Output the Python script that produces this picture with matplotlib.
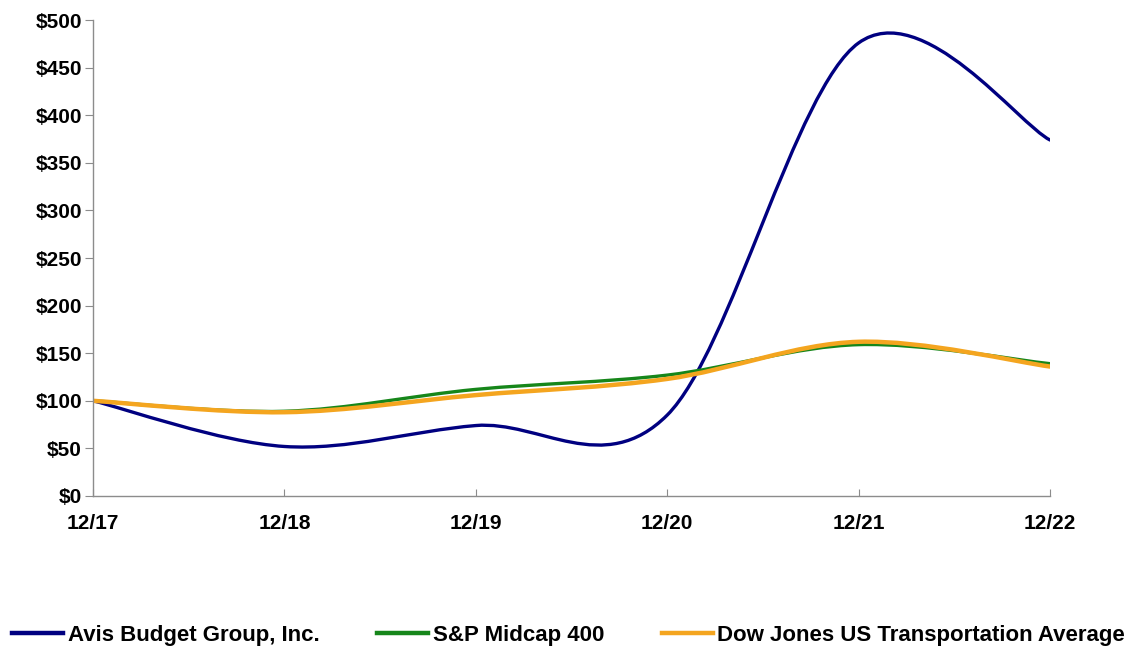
import matplotlib
matplotlib.use("Agg")
import matplotlib.pyplot as plt
import numpy as np
from matplotlib.path import Path
from matplotlib.patches import PathPatch
from matplotlib.lines import Line2D

plt.rcParams['font.family'] = ['Liberation Sans', 'DejaVu Sans']
plt.rcParams['font.weight'] = 'bold'

# data
periods = ["12/17", "12/18", "12/19", "12/20", "12/21", "12/22"]
avis = [100, 52, 74, 85, 476, 374]
midcap = [100, 89, 112, 127, 159, 139]
transport = [100, 88, 106, 123, 162, 136]

series_names = ["Avis Budget Group, Inc.", "S&P Midcap 400",
                "Dow Jones US Transportation Average"]
colors = ["#000080", "#16861a", "#f4a51f"]
widths = [2.4, 2.4, 3.2]


def smooth_path(xs, ys):
    # Excel-style smoothed line: cubic Bezier segments through the data points
    pts = np.column_stack([xs, ys]).astype(float)
    n = len(pts)
    verts = [pts[0]]
    codes = [Path.MOVETO]
    for i in range(n - 1):
        p0 = pts[i - 1] if i > 0 else pts[i]
        p1 = pts[i]
        p2 = pts[i + 1]
        p3 = pts[i + 2] if i + 2 < n else pts[i + 1]
        c1 = p1 + (p2 - p0) / 6.0
        c2 = p2 - (p3 - p1) / 6.0
        verts += [c1, c2, p2]
        codes += [Path.CURVE4] * 3
    return Path(verts, codes)


fig = plt.figure(figsize=(11.37, 6.48), dpi=100)
ax = fig.add_axes([0.0818, 0.2346, 0.8417, 0.7344])

x = np.arange(len(periods))
for vals, c, lw in zip([avis, midcap, transport], colors, widths):
    ax.add_patch(PathPatch(smooth_path(x, vals), facecolor="none",
                           edgecolor=c, lw=lw, capstyle="round",
                           joinstyle="round"))

ax.set_xlim(0, len(periods) - 1)
ax.set_ylim(0, 500)
ax.set_yticks(range(0, 501, 50))
ax.set_yticklabels(["$%d" % v for v in range(0, 501, 50)])
ax.set_xticks(x)
ax.set_xticklabels(periods)

for s in ["top", "right"]:
    ax.spines[s].set_visible(False)
for s in ["left", "bottom"]:
    ax.spines[s].set_color("#8c8c8c")
    ax.spines[s].set_linewidth(1.0)

ax.tick_params(axis="y", direction="out", length=6, color="#8c8c8c",
               labelsize=15, pad=2)
ax.tick_params(axis="x", direction="in", length=5, color="#8c8c8c",
               labelsize=15, pad=13)

handles = [Line2D([0], [0], color=c, lw=3.2) for c in colors]
fig.legend(handles, series_names, loc="lower center",
           bbox_to_anchor=(0.5, -0.028), ncol=3, frameon=False,
           fontsize=16, handlelength=2.3, handletextpad=0.2,
           columnspacing=2.6)

fig.savefig("out.png", dpi=100)
